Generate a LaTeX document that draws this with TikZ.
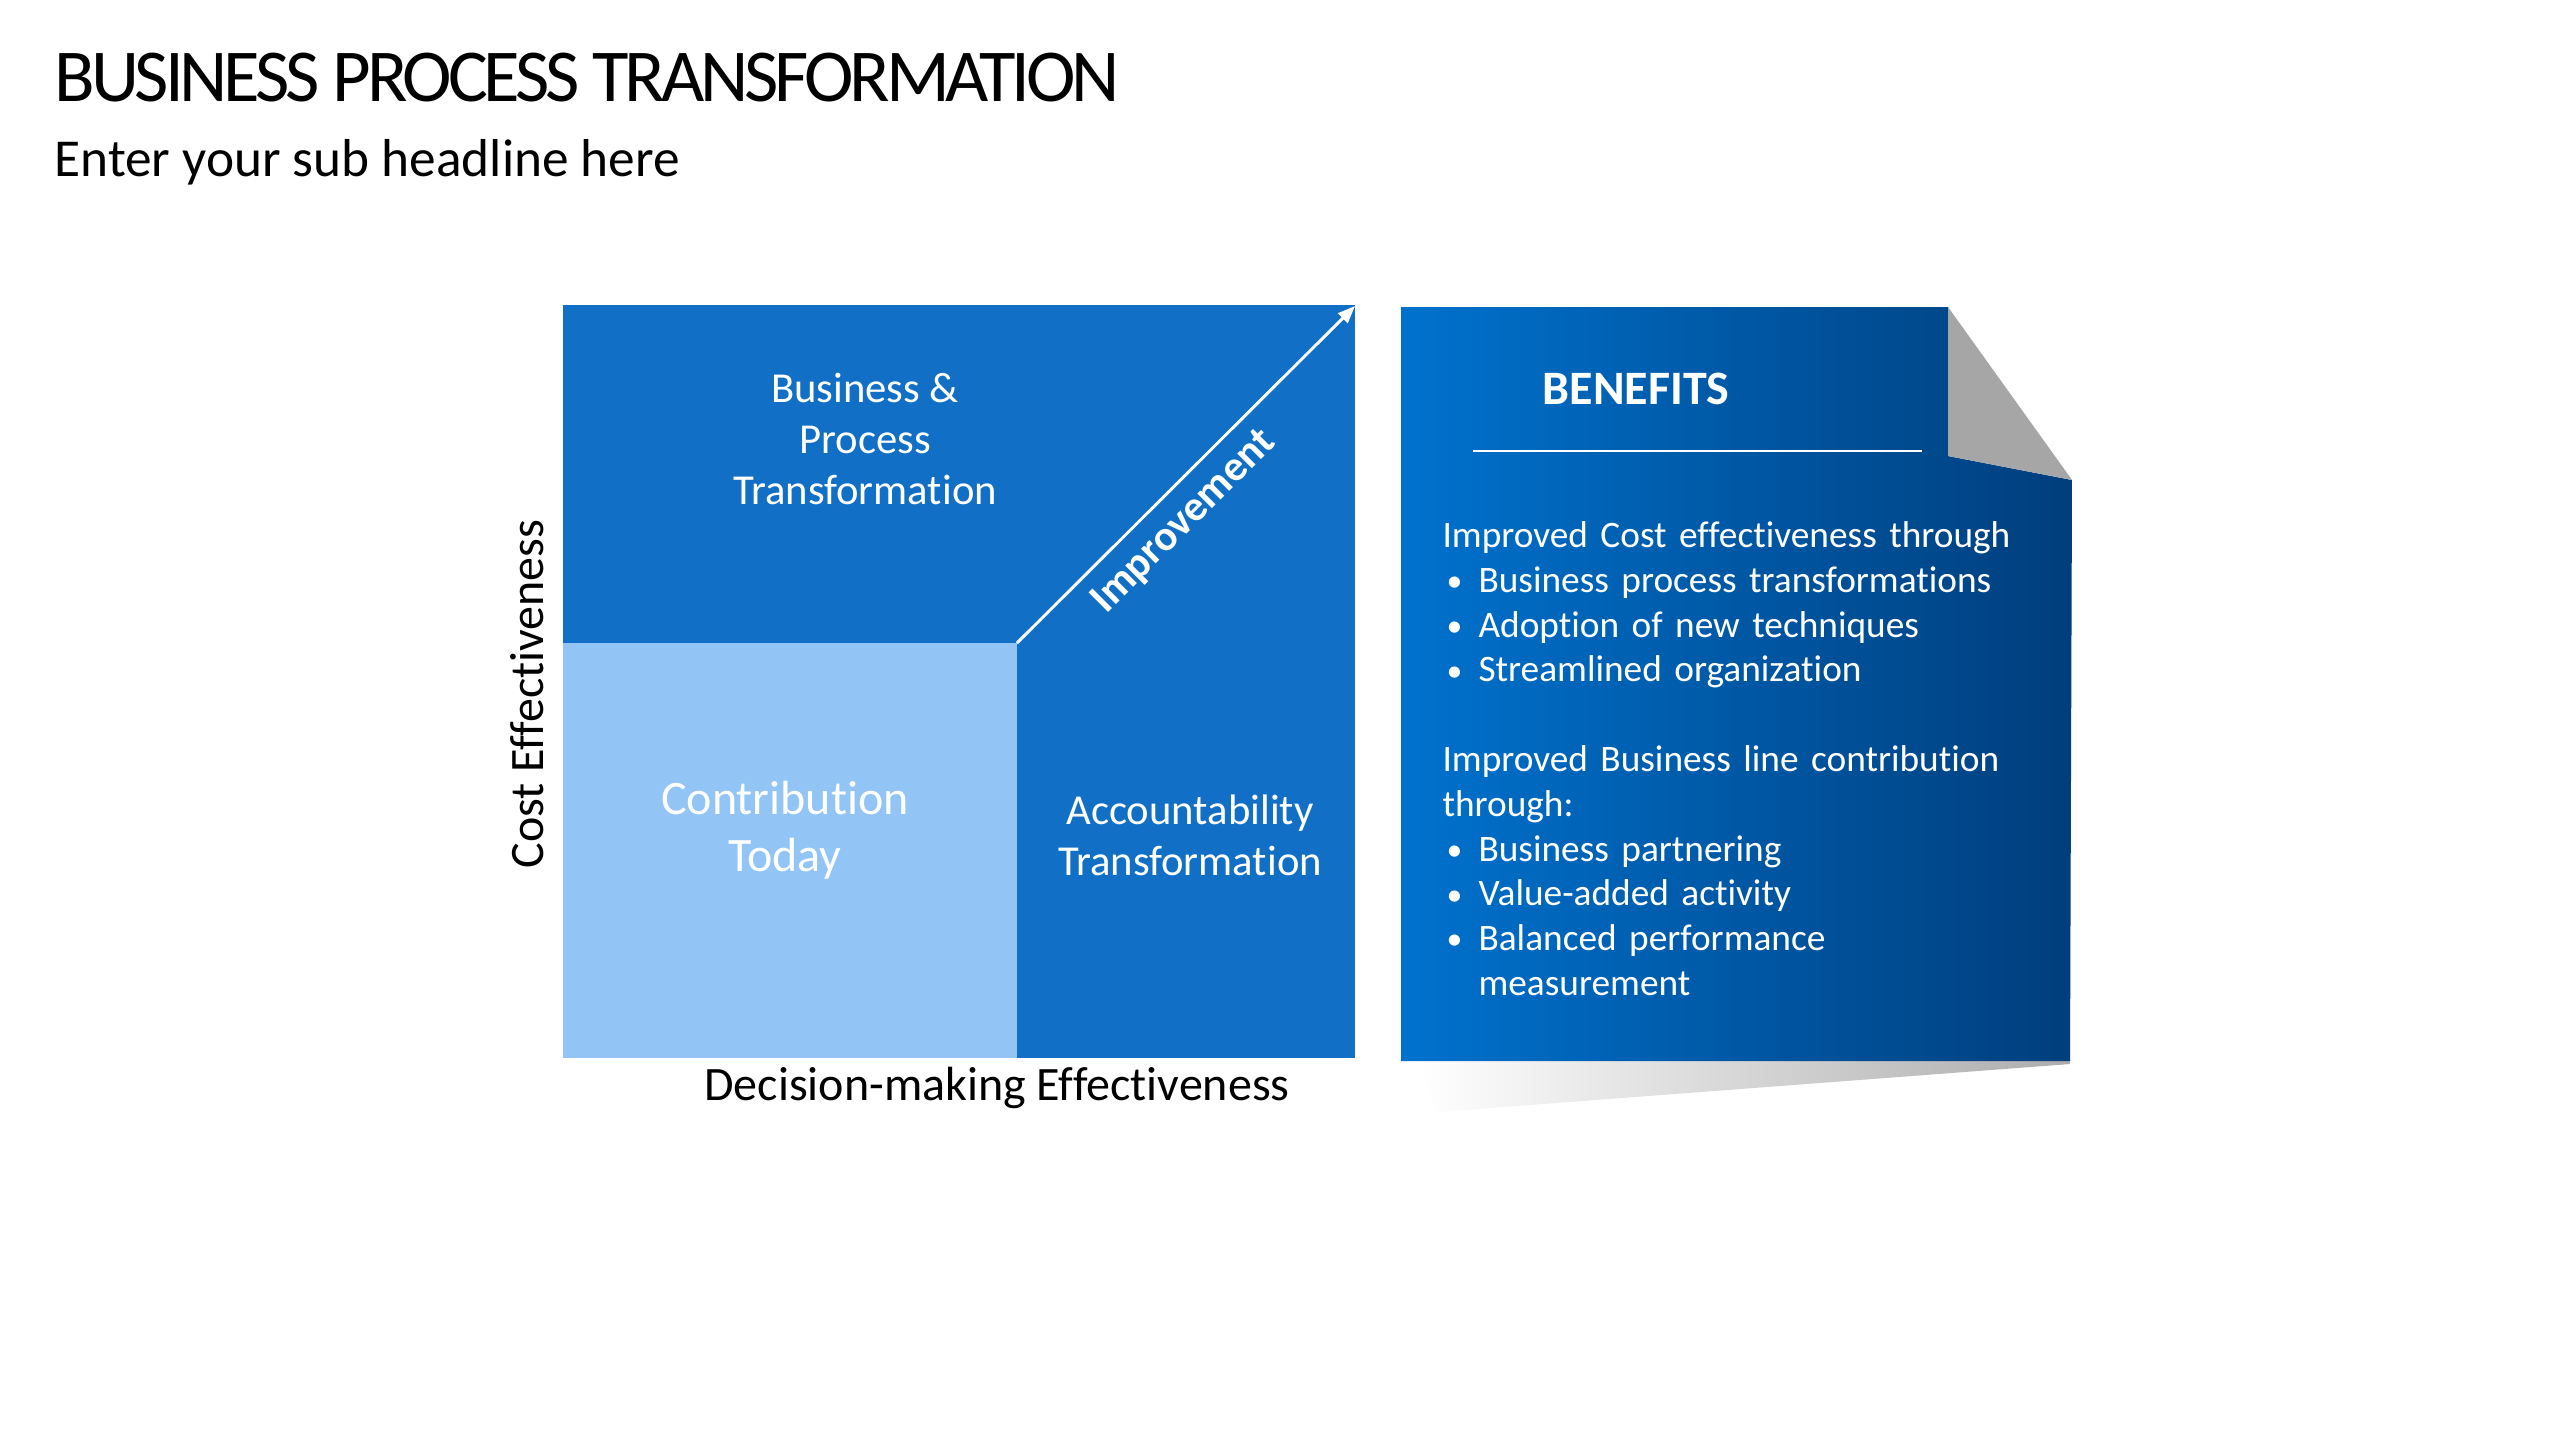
\documentclass[tikz,border=0pt]{standalone}
\usepackage{fontspec}
\setmainfont[Ligatures={NoCommon}]{Carlito}
\newfontfamily\titlefont[LetterSpace=-5.5,Ligatures={NoCommon}]{Carlito}
\usetikzlibrary{arrows.meta}

\definecolor{quaddark}{RGB}{17,112,198}
\definecolor{quadlight}{RGB}{146,197,246}
\definecolor{panelleft}{RGB}{0,114,206}
\definecolor{panelright}{RGB}{0,62,124}
\definecolor{foldgrey}{RGB}{166,166,166}

\newcommand{\benitem}[1]{\makebox[13.5bp][l]{\hspace{1.5bp}\raisebox{0.3bp}{\scalebox{0.85}{•}}}#1}

\tikzset{
  quadtext/.style={text=white, align=center, font=\fontsize{16bp}{19bp}\selectfont},
  axistext/.style={text=black, font=\fontsize{18bp}{21.5bp}\selectfont},
}

\begin{document}
\begin{tikzpicture}[x=0.375bp, y=-0.375bp]
\useasboundingbox (0,0) rectangle (2560,1440);
\fill[white] (0,0) rectangle (2560,1440);

% headline
\node[anchor=base west, inner sep=0, font=\titlefont\fontsize{28bp}{34bp}\selectfont] (title) at (54,101) {BUSINESS PROCESS TRANSFORMATION};
\node[anchor=base west, inner sep=0, font=\fontsize{20bp}{24bp}\selectfont] (subtitle) at (54,176) {Enter your sub headline here};

% matrix
\fill[quaddark] (563,305) rectangle (1355,1058);
\fill[quadlight] (563,643) rectangle (1017,1058);
\coordinate (origin) at (1017,643);
\coordinate (corner) at (1355,306);
\draw[white, line width=1.1bp, -{Triangle[length=6.5bp,width=5bp]}] (origin) -- (corner);

\node[quadtext] (bizproc) at (865,439) {Business \&\\Process\\Transformation};
\node[quadtext, font=\fontsize{18bp}{21.5bp}\selectfont] (today) at (785,830) {Contribution\\Today};
\node[quadtext] (account) at (1190,835) {Accountability\\Transformation};
\node[text=white, rotate=45, inner sep=0, font=\bfseries\fontsize{16bp}{19bp}\selectfont] (improve) at (1184,522) {Improvement};

\node[axistext, rotate=90] (costaxis) at (527,694) {Cost Effectiveness};
\node[axistext] (decaxis) at (997,1088) {Decision-making Effectiveness};

% benefits panel
\shade[left color=white, right color=gray!65] (1420,1061) -- (2070,1061) -- (2070,1064) -- (1437,1112) -- cycle;
\shade[left color=panelleft, right color=panelright] (1401,307) -- (1948,307) -- (1948,456) -- (2072,480) -- (2070,1061) -- (1401,1061) -- cycle;
\fill[foldgrey] (1948,307) -- (2072,480) -- (1948,456) -- cycle;

\node[text=white, font=\bfseries\fontsize{18bp}{22bp}\selectfont] (benhead) at (1636,389) {BENEFITS};
\coordinate (ruleleft) at (1473,451);
\coordinate (ruleright) at (1922,451);
\draw[white, line width=0.8bp] (ruleleft) -- (ruleright);

\node[anchor=north west, inner sep=0, text=white, text width=240bp, align=left,
      font=\fontsize{14bp}{16.8bp}\selectfont] (benlist) at (1442,521)
  {Improved Cost effectiveness through\\
   \benitem{Business process transformations}\\
   \benitem{Adoption of new techniques}\\
   \benitem{Streamlined organization}\\[16.8bp]
   Improved Business line contribution\\
   through:\\
   \benitem{Business partnering}\\
   \benitem{Value-added activity}\\
   \benitem{Balanced performance}\\
   \hspace*{13.5bp}measurement};
\end{tikzpicture}
\end{document}
